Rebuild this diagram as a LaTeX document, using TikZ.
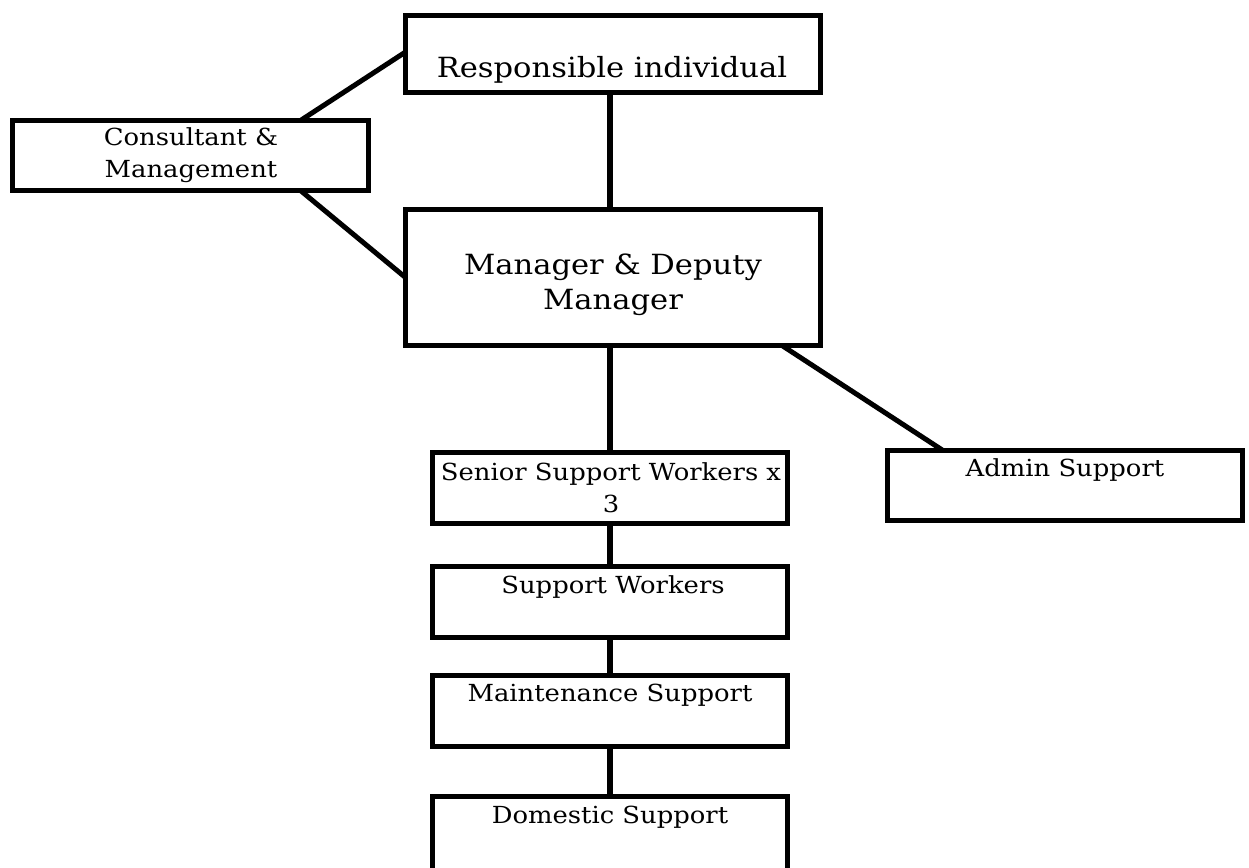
\documentclass[tikz,border=0pt]{standalone}
\usepackage{fontspec}
\setmainfont[FakeStretch=1.1]{DejaVu Serif}
\begin{document}
\begin{tikzpicture}[x=1pt,y=-1pt,
  box/.style={draw=black, line width=5pt, rectangle, inner sep=0pt, outer sep=0pt, fill=white},
  big/.style={align=center, inner sep=0pt, font=\fontsize{27.8}{35}\selectfont},
  small/.style={align=center, inner sep=0pt, font=\fontsize{23.5}{31.5}\selectfont},
  link/.style={draw=black, line width=5.5pt}]
\useasboundingbox (0,0) rectangle (1249,867);
\clip (0,0) rectangle (1249,867);
\fill[white] (0,0) rectangle (1249,867);
% boxes
\node[box, minimum width=415pt, minimum height=77pt] (resp) at (613,54) {};
\node[box, minimum width=356pt, minimum height=70pt] (cons) at (190.5,155.5) {};
\node[box, minimum width=415pt, minimum height=136pt] (mgr) at (613,277.5) {};
\node[box, minimum width=355pt, minimum height=71pt] (senior) at (610,488) {};
\node[box, minimum width=355pt, minimum height=70pt] (admin) at (1065,485.5) {};
\node[box, minimum width=355pt, minimum height=71pt] (support) at (610,602) {};
\node[box, minimum width=355pt, minimum height=71pt] (maint) at (610,711) {};
\node[box, minimum width=355pt, minimum height=90pt] (domestic) at (610,841) {};
% texts
\node[big] (tresp) at (612,70) {Responsible individual};
\node[small] (tcons) at (191,155) {Consultant \&\\Management};
\node[big] (tmgr) at (613,284.5) {Manager \& Deputy\\Manager};
\node[small] (tsenior) at (611,487.5) {Senior Support Workers x\\3};
\node[small] (tadmin) at (1065,470) {Admin Support};
\node[small] (tsupport) at (613,587) {Support Workers};
\node[small] (tmaint) at (610,695) {Maintenance Support};
\node[small] (tdomestic) at (610,817) {Domestic Support};
% connectors
\draw[link, line width=5pt] ([xshift=110pt]cons.north) -- ([yshift=2pt]resp.west);
\draw[link, line width=5pt] ([xshift=110pt]cons.south) -- (mgr.west);
\draw[link] ([xshift=-3pt]resp.south) -- ([xshift=-3pt]mgr.north);
\draw[link] ([xshift=-3pt]mgr.south) -- (senior.north);
\draw[link, line width=5pt] ([xshift=169pt]mgr.south) -- ([xshift=-122pt]admin.north);
\draw[link] (senior.south) -- (support.north);
\draw[link] (support.south) -- (maint.north);
\draw[link] (maint.south) -- (domestic.north);
\end{tikzpicture}
\end{document}
